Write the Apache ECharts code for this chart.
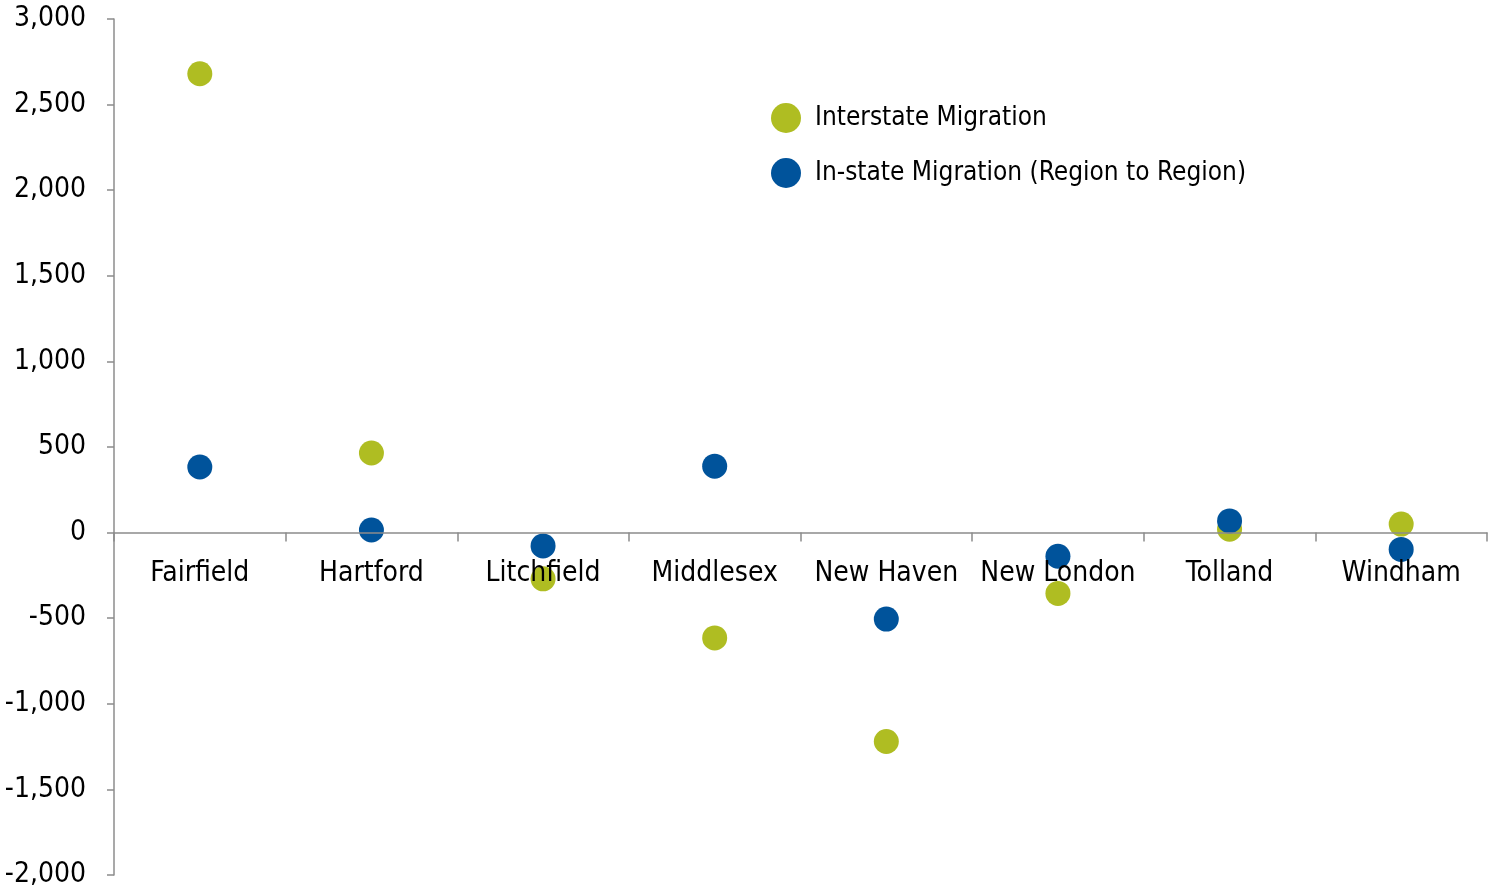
<!DOCTYPE html>
<html>
<head>
<meta charset="utf-8">
<script src="https://cdn.jsdelivr.net/npm/echarts@6/dist/echarts.min.js"></script>
<style>
  html, body { margin: 0; padding: 0; background: #fff; }
  #main { width: 1488px; height: 891px; }
</style>
</head>
<body>
<div id="main"></div>
<script>
  // 县名
  var counties = ['Fairfield', 'Hartford', 'Litchfield', 'Middlesex', 'New Haven', 'New London', 'Tolland', 'Windham'];
  // 州际迁移
  var interstate = [2680, 465, -270, -615, -1220, -355, 20, 50];
  // 州内迁移
  var instate = [383, 15, -78, 388, -505, -138, 68, -98];

  var font = '"DejaVu Sans Condensed", "DejaVu Sans", sans-serif';
  var yMin = -2000, yMax = 3000;
  var gridTop = 19, gridBottom = 16, chartH = 891;
  // x轴放在0的位置上
  var plotH = chartH - gridTop - gridBottom;
  var zeroFromBottom = plotH * (0 - yMin) / (yMax - yMin);

  var myChart = echarts.init(document.getElementById('main'));

  var option = {
    animation: false,
    textStyle: { fontFamily: font },
    legend: {
      orient: 'vertical',
      left: 766,
      top: 98,
      itemWidth: 30,
      itemHeight: 30,
      itemGap: 25,
      icon: 'circle',
      textStyle: { fontSize: 26, color: '#000', fontFamily: font, padding: [0, 0, 0, 9] },
      data: ['Interstate Migration', 'In-state Migration (Region to Region)']
    },
    grid: {
      left: 114,
      right: 1,
      top: gridTop,
      bottom: gridBottom,
      containLabel: false,
      outerBoundsMode: 'none'
    },
    xAxis: {
      type: 'category',
      data: counties,
      z: 3,
      position: 'bottom',
      offset: -zeroFromBottom,
      boundaryGap: true,
      axisLine: { onZero: false, lineStyle: { color: '#8c8c8c', width: 1.5 } },
      axisTick: { show: true, inside: false, length: 9, alignWithLabel: false, lineStyle: { color: '#8c8c8c', width: 1.5 } },
      axisLabel: { fontSize: 28, color: '#000', margin: 27, fontFamily: font, interval: 0 },
      splitLine: { show: false }
    },
    yAxis: {
      type: 'value',
      min: yMin,
      max: yMax,
      interval: 500,
      axisLine: { show: true, lineStyle: { color: '#8c8c8c', width: 1.5 } },
      axisTick: { show: true, length: 7, lineStyle: { color: '#8c8c8c', width: 1.5 } },
      axisLabel: {
        fontSize: 28, color: '#000', margin: 28, fontFamily: font,
        formatter: function (v) { return v.toLocaleString('en-US'); }
      },
      splitLine: { show: false }
    },
    series: [
      {
        name: 'Interstate Migration',
        type: 'scatter',
        symbolSize: 25,
        itemStyle: { color: '#afbd22', opacity: 1 },
        data: interstate
      },
      {
        name: 'In-state Migration (Region to Region)',
        type: 'scatter',
        symbolSize: 25,
        itemStyle: { color: '#00539b', opacity: 1 },
        data: instate
      }
    ]
  };
  myChart.setOption(option);
</script>
</body>
</html>
